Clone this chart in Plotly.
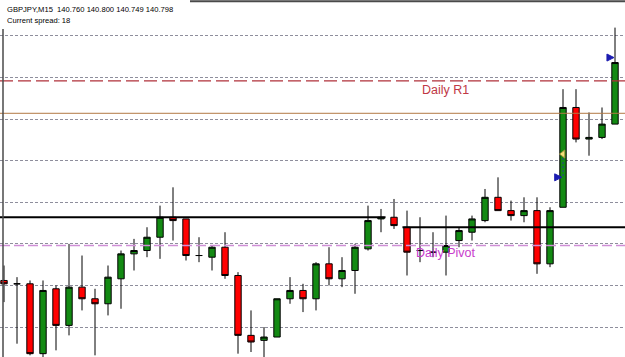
import plotly.graph_objects as go

# ---- data (GBPJPY M15) ----
bars = list(range(48))
opens = [140.668, 140.666, 140.666, 140.624, 140.663, 140.641, 140.664, 140.657, 140.654, 140.669,
         140.684, 140.686, 140.694, 140.706, 140.705, 140.683, 140.682, 140.688, 140.671, 140.635,
         140.632, 140.634, 140.657, 140.662, 140.657, 140.678, 140.669, 140.674, 140.687, 140.705,
         140.706, 140.700, 140.686, 140.685, 140.685, 140.692, 140.697, 140.704, 140.718, 140.710,
         140.707, 140.710, 140.678, 140.712, 140.772, 140.753, 140.754, 140.762]
highs = [140.677, 140.670, 140.668, 140.668, 140.665, 140.690, 140.683, 140.663, 140.677, 140.686,
         140.693, 140.700, 140.713, 140.724, 140.705, 140.694, 140.689, 140.697, 140.673, 140.650,
         140.640, 140.657, 140.670, 140.666, 140.679, 140.688, 140.682, 140.690, 140.713, 140.711,
         140.717, 140.710, 140.706, 140.697, 140.707, 140.700, 140.707, 140.723, 140.730, 140.716,
         140.718, 140.718, 140.712, 140.783, 140.783, 140.769, 140.772, 140.820]
lows = [140.655, 140.630, 140.623, 140.621, 140.626, 140.635, 140.650, 140.623, 140.647, 140.651,
        140.674, 140.682, 140.681, 140.692, 140.680, 140.679, 140.674, 140.669, 140.624, 140.625,
        140.621, 140.634, 140.654, 140.649, 140.650, 140.665, 140.664, 140.660, 140.686, 140.697,
        140.699, 140.671, 140.679, 140.682, 140.671, 140.688, 140.692, 140.703, 140.710, 140.704,
        140.703, 140.672, 140.676, 140.712, 140.751, 140.743, 140.753, 140.762]
closes = [140.666, 140.666, 140.624, 140.662, 140.641, 140.664, 140.657, 140.654, 140.670, 140.684,
          140.686, 140.694, 140.706, 140.704, 140.683, 140.683, 140.688, 140.671, 140.635, 140.631,
          140.634, 140.657, 140.662, 140.657, 140.678, 140.669, 140.674, 140.688, 140.704, 140.706,
          140.701, 140.685, 140.686, 140.685, 140.689, 140.698, 140.705, 140.718, 140.710, 140.707,
          140.710, 140.678, 140.710, 140.772, 140.753, 140.754, 140.762, 140.799]

header_text = "GBPJPY,M15\u00a0\u00a0140.760 140.800 140.749 140.798"
spread_text = "Current spread: 18"

grid_base = 140.640
grid_step = 0.025

daily_r1 = 140.788
daily_r1_label = "Daily R1"
brown_level = 140.7685
black_levels = [140.706, 140.700]
black_starts = [None, 30.65]
black_ends = [29.35, None]
daily_pivot = 140.689
daily_pivot_label = "Daily Pivot"

entry_bar = [43, 43]
entry_price = [140.744, 140.730]
arrow_bars = [42.9, 46.92]
arrow_prices = [140.730, 140.802]

# ---- view ----
W, H = 625, 357
x_range = [-0.3077, 47.769]
y_range = [140.6220, 140.8366]

fig = go.Figure()

fig.add_trace(go.Candlestick(
    x=bars, open=opens, high=highs, low=lows, close=closes,
    increasing=dict(fillcolor="#138a13", line=dict(color="#000000", width=1)),
    decreasing=dict(fillcolor="#ff0000", line=dict(color="#000000", width=1)),
    whiskerwidth=0, hoverinfo="skip", showlegend=False,
))

# trade line and markers
fig.add_trace(go.Scatter(x=entry_bar, y=entry_price, mode="lines",
                         line=dict(color="#2a3a9a", width=1, dash="2px,2px"),
                         hoverinfo="skip", showlegend=False))
fig.add_trace(go.Scatter(x=[entry_bar[0]], y=[entry_price[0]], mode="markers",
                         marker=dict(symbol="triangle-left", size=7, color="#f2e27a",
                                     line=dict(color="#a09040", width=1)),
                         hoverinfo="skip", showlegend=False))
fig.add_trace(go.Scatter(x=arrow_bars, y=arrow_prices, mode="markers",
                         marker=dict(symbol="arrow-right", size=7, color="#1c1cb0",
                                     line=dict(color="#1c1cb0", width=1)),
                         hoverinfo="skip", showlegend=False))

shapes = []
# Daily R1
shapes.append(dict(type="line", xref="paper", x0=0, x1=1, yref="y", y0=daily_r1, y1=daily_r1,
                   line=dict(color="#b0303a", width=1.2, dash="13px,5px"), layer="above"))
# brown level
shapes.append(dict(type="line", xref="paper", x0=0, x1=1, yref="y", y0=brown_level, y1=brown_level,
                   line=dict(color="#b27844", width=1), layer="above"))
# daily pivot
shapes.append(dict(type="line", xref="paper", x0=0, x1=1, yref="y", y0=daily_pivot, y1=daily_pivot,
                   line=dict(color="#cf8fd6", width=1.6, dash="10px,4px"), layer="above"))
# black horizontal segments
for lvl, s, e in zip(black_levels, black_starts, black_ends):
    shapes.append(dict(type="line", xref="x", yref="y",
                       x0=x_range[0] if s is None else s,
                       x1=x_range[1] if e is None else e,
                       y0=lvl, y1=lvl, line=dict(color="#000000", width=2.2), layer="above"))
# chart frame (top and left)
shapes.append(dict(type="line", xref="paper", yref="paper", x0=190 / W, x1=1, y0=1 - 1.2 / H, y1=1 - 1.2 / H,
                   line=dict(color="#4a4a4a", width=2)))
shapes.append(dict(type="line", xref="paper", yref="paper", x0=3 / W, x1=3 / W, y0=0, y1=1 - 29 / H,
                   line=dict(color="#4a4a4a", width=1.5)))

annotations = [
    dict(text=header_text, xref="paper", yref="paper", x=6 / W, y=1 - 9 / H,
         xanchor="left", yanchor="middle", showarrow=False, borderpad=0,
         font=dict(family="Liberation Sans, Arial", size=7.6, color="#000000")),
    dict(text=spread_text, xref="paper", yref="paper", x=6 / W, y=1 - 20.5 / H,
         xanchor="left", yanchor="middle", showarrow=False, borderpad=0,
         font=dict(family="Liberation Sans, Arial", size=7.6, color="#000000")),
    dict(text=daily_r1_label, xref="paper", yref="paper", x=421 / W, y=1 - 89.5 / H,
         xanchor="left", yanchor="middle", showarrow=False, borderpad=0,
         font=dict(family="Liberation Sans, Arial", size=12.5, color="#c03845")),
    dict(text=daily_pivot_label, xref="paper", yref="paper", x=415 / W, y=1 - 253 / H,
         xanchor="left", yanchor="middle", showarrow=False, borderpad=0,
         font=dict(family="Liberation Sans, Arial", size=12.5, color="#c83ccc")),
]

fig.update_layout(
    width=W, height=H,
    margin=dict(l=0, r=0, t=0, b=0),
    paper_bgcolor="#ffffff", plot_bgcolor="#ffffff",
    showlegend=False, boxgap=0.3,
    shapes=shapes, annotations=annotations,
    xaxis=dict(range=x_range, showgrid=False, zeroline=False, showline=False,
               showticklabels=False, ticks="", rangeslider=dict(visible=False), fixedrange=True),
    yaxis=dict(range=y_range, showgrid=True, gridcolor="#8e8e9c", gridwidth=1, griddash="3px,2px",
               tick0=grid_base, dtick=grid_step, zeroline=False, showline=False,
               showticklabels=False, ticks="", fixedrange=True),
)

fig.write_html("out.html", config={"displayModeBar": False})
